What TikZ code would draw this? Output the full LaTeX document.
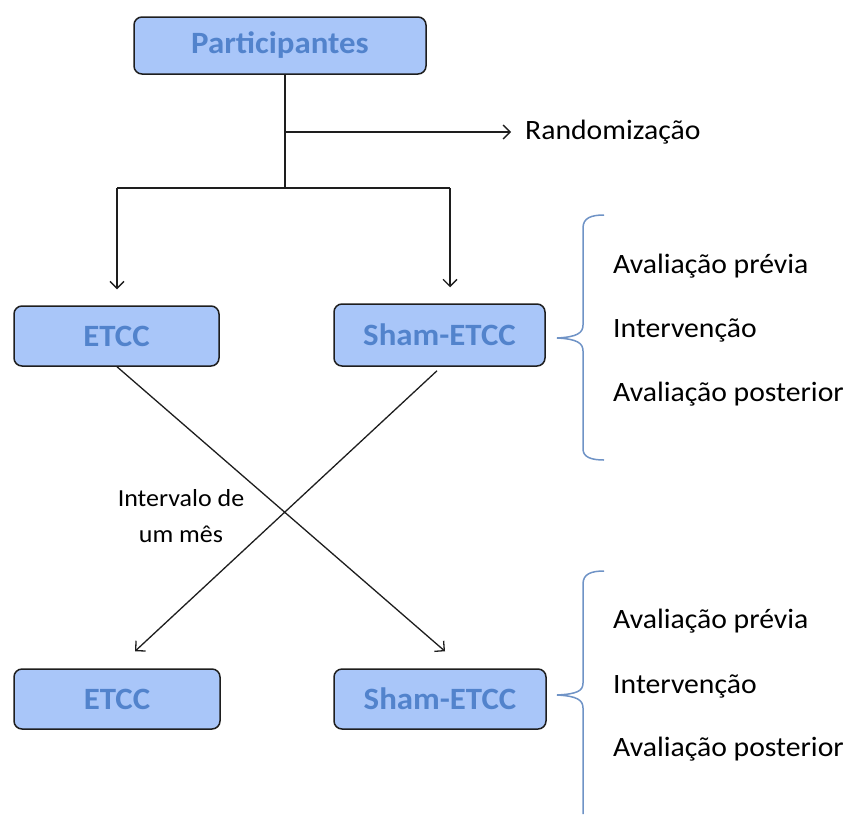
\documentclass[tikz,border=0pt]{standalone}
\usepackage{fontspec}
\setmainfont{Carlito}[FakeStretch=1.06]
\usetikzlibrary{arrows.meta,calc}
\definecolor{boxfill}{HTML}{A9C6F9}
\definecolor{boxtext}{HTML}{5283CC}
\definecolor{bracecol}{HTML}{6F93C6}
\definecolor{linecol}{HTML}{1E1E1E}
\tikzset{
  flowbox/.style={draw=linecol, line width=1.5pt, fill=boxfill, rounded corners=8pt,
    text=boxtext, font=\fontsize{31}{36}\selectfont\bfseries, inner sep=0pt},
  conn/.style={draw=linecol, line width=1.3pt},
  arr/.style={conn, -{Straight Barb[length=7pt,width=14pt,line width=1.3pt]}},
  sidetext/.style={font=\fontsize{28}{32}\selectfont, text=black, anchor=west, inner sep=0pt},
  brace/.style={draw=bracecol, line width=1.5pt}
}
\begin{document}
\begin{tikzpicture}[x=1pt,y=-1pt]
\useasboundingbox (0,0) rectangle (850,814);
% boxes
\node[flowbox, minimum width=292pt, minimum height=57pt] (P) at (280,45.5) {Participantes};
\node[flowbox, minimum width=205pt, minimum height=60pt] (E1) at (116.5,336) {ETCC};
\node[flowbox, minimum width=211pt, minimum height=62pt] (S1) at (439.5,335) {Sham-ETCC};
\node[flowbox, minimum width=206pt, minimum height=60pt] (E2) at (117,699) {ETCC};
\node[flowbox, minimum width=212pt, minimum height=60pt] (S2) at (440,699) {Sham-ETCC};
% labels
\node[sidetext] (R) at (525,132) {Randomização};
\node[font=\fontsize{24.5}{36}\selectfont, align=center, inner sep=0pt] (I) at (181,516) {Intervalo de\\um mês};
\node[sidetext] (A1) at (613,266) {Avaliação prévia};
\node[sidetext] (B1) at (613,330) {Intervenção};
\node[sidetext] (C1) at (613,394) {Avaliação posterior};
\node[sidetext] (A2) at (613,621) {Avaliação prévia};
\node[sidetext] (B2) at (613,686) {Intervenção};
\node[sidetext] (C2) at (613,749) {Avaliação posterior};
% connectors
\coordinate (j1) at (285,132);
\coordinate (j2) at (285,188);
\draw[conn] ($(P.south)+(5,0)$) -- (j2);
\draw[arr] (j1) -- ($(R.west)+(-14,0)$);
\draw[conn] (j2) -- (117,188) coordinate (jl);
\draw[conn] (j2) -- (450,188) coordinate (jr);
\draw[arr] (jl) -- ($(E1.north)+(0.5,-16)$);
\draw[arr] (jr) -- ($(S1.north)+(10.5,-16)$);
\draw[arr] ($(E1.south)+(0.5,0)$) -- ($(S2.north)+(5,-17)$);
\draw[arr] ($(S1.south)+(-2.5,4)$) -- ($(E2.north)+(18,-17)$);
% braces
\draw[brace] (604,215) .. controls (591,215) and (583,218) .. (583,228) -- (583,325)
  .. controls (583,333) and (577,337) .. (557,338)
  .. controls (577,339) and (583,343) .. (583,351) -- (583,449)
  .. controls (583,457) and (591,460) .. (604,460);
\draw[brace] (604,571) .. controls (591,571) and (583,574) .. (583,584) -- (583,683)
  .. controls (583,691) and (577,694) .. (557,695)
  .. controls (577,696) and (583,700) .. (583,708) -- (583,814);
\end{tikzpicture}
\end{document}
